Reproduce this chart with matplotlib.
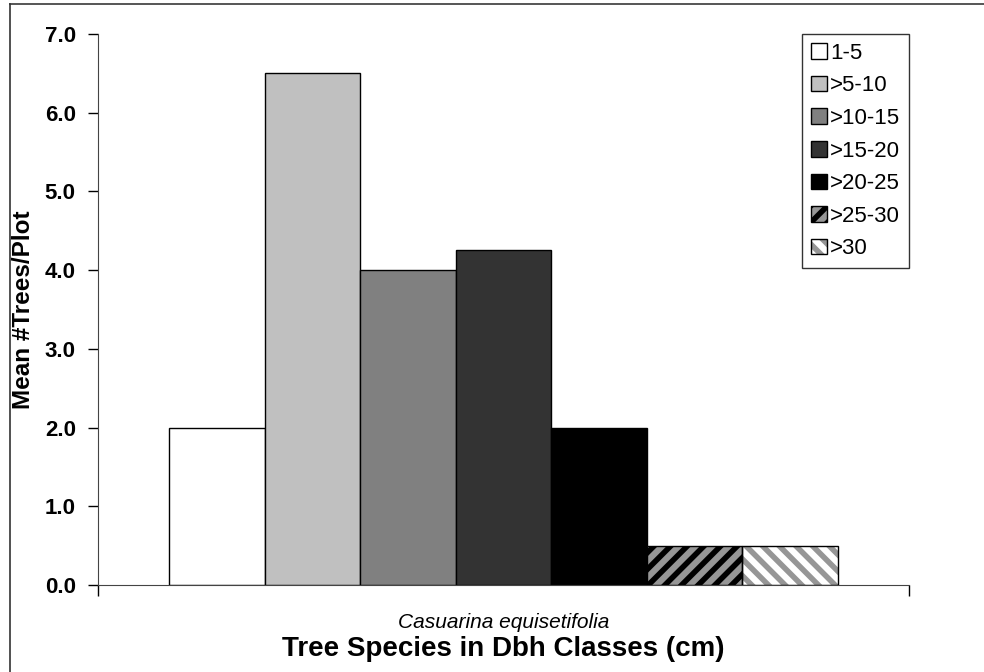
import matplotlib.pyplot as plt
from matplotlib.patches import Patch
from matplotlib.lines import Line2D
from matplotlib.legend_handler import HandlerTuple

plt.rcParams['font.family'] = ['Liberation Sans', 'DejaVu Sans']
plt.rcParams['hatch.linewidth'] = 4.0

species = 'Casuarina equisetifolia'
classes = ['1-5', '>5-10', '>10-15', '>15-20', '>20-25', '>25-30', '>30']
means = [2.0, 6.5, 4.0, 4.25, 2.0, 0.5, 0.5]
fills = ['#ffffff', '#c0c0c0', '#808080', '#333333', '#000000', '#969696', '#ffffff']
hatches = [None, None, None, None, None, '//', '\\\\']
hatch_cols = [None, None, None, None, None, '#000000', '#969696']

fig = plt.figure(figsize=(9.84, 6.72), dpi=100)
ax = fig.add_axes([0.0996, 0.1295, 0.8242, 0.8199])

width = 0.1177
n = len(classes)
handles = []
for i, (lab, val) in enumerate(zip(classes, means)):
    x = (i - (n - 1) / 2) * width
    if hatches[i]:
        ax.bar(x, val, width, color=fills[i], edgecolor=hatch_cols[i],
               hatch=hatches[i], linewidth=0, zorder=2)
        ax.bar(x, val, width, fill=False, edgecolor='black', linewidth=1, zorder=3)
        h = (Patch(facecolor=fills[i], edgecolor=hatch_cols[i], hatch=hatches[i], linewidth=0),
             Patch(fill=False, edgecolor='black', linewidth=1))
    else:
        ax.bar(x, val, width, color=fills[i], edgecolor='black', linewidth=1, zorder=2)
        h = Patch(facecolor=fills[i], edgecolor='black', linewidth=1)
    handles.append(h)

ax.set_xlim(-0.5, 0.5)
ax.set_ylim(0, 7)
ax.set_yticks([0, 1, 2, 3, 4, 5, 6, 7])
ax.set_yticklabels([f'{v:.1f}' for v in range(8)], fontsize=16, fontweight='bold')
ax.tick_params(axis='y', direction='out', length=7, width=1, pad=9)

ax.set_xticks([-0.5, 0.5])
ax.set_xticklabels(['', ''])
ax.tick_params(axis='x', which='major', direction='out', length=8, width=1)
ax.set_xticks([0], minor=True)
ax.set_xticklabels([species], minor=True, fontsize=15, fontstyle='italic')
ax.tick_params(axis='x', which='minor', length=0, pad=20)

ax.spines['top'].set_visible(False)
ax.spines['right'].set_visible(False)
ax.spines['left'].set_color('#444444')
ax.spines['bottom'].set_color('#444444')

ax.set_ylabel('Mean #Trees/Plot', fontsize=17.5, fontweight='bold', labelpad=7)
ax.set_xlabel('Tree Species in Dbh Classes (cm)', fontsize=20, fontweight='bold', labelpad=3)

leg = ax.legend(handles, classes, loc='upper right', bbox_to_anchor=(1.0, 1.0),
                fontsize=16, frameon=True, fancybox=False, borderaxespad=0,
                handlelength=0.7, handleheight=0.7, handletextpad=0.15,
                labelspacing=0.52, borderpad=0.4,
                handler_map={tuple: HandlerTuple(ndivide=1, pad=0)})
leg.get_frame().set_edgecolor('black')
leg.get_frame().set_linewidth(1)

# outer chart border (top and left edges visible in crop)
fig.add_artist(Line2D([0.010, 1.0], [0.994, 0.994], transform=fig.transFigure,
                      color='#555555', linewidth=1.4))
fig.add_artist(Line2D([0.010, 0.010], [0.0, 0.994], transform=fig.transFigure,
                      color='#333333', linewidth=1.2))

fig.savefig('out.png', dpi=100)
